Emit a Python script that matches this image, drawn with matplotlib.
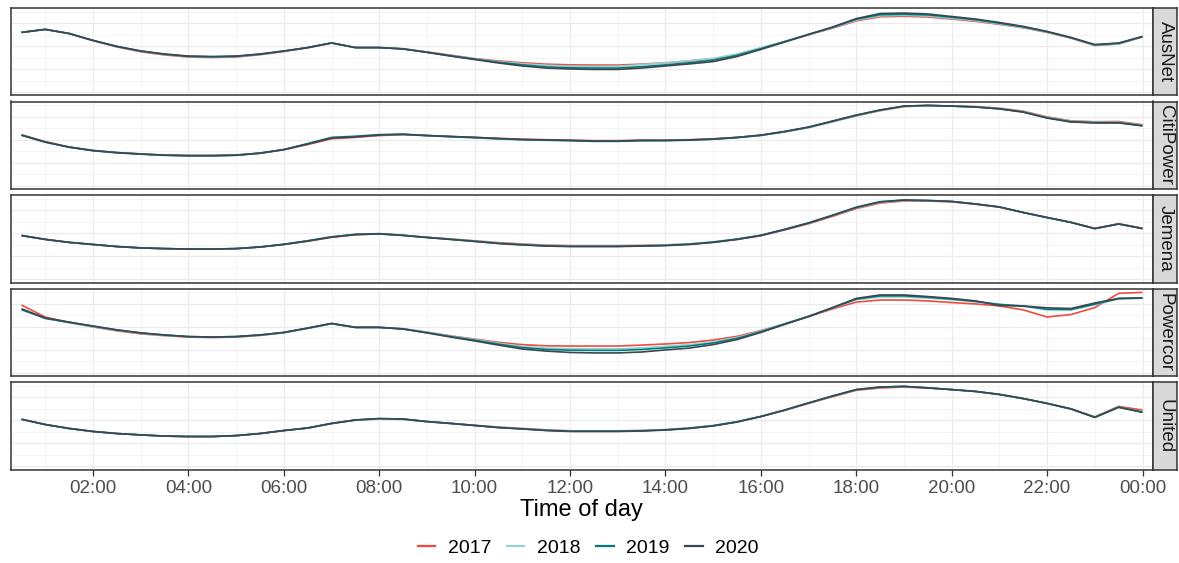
import matplotlib
matplotlib.use("Agg")
import matplotlib.pyplot as plt
from matplotlib.lines import Line2D
from matplotlib.ticker import MultipleLocator
import numpy as np

plt.rcParams.update({
    "font.family": ["Liberation Sans", "DejaVu Sans"],
})

# half-hourly time slots, 00:30 ... 24:00 (in hours)
hours = np.arange(1, 49) * 0.5
tick_hours = [2, 4, 6, 8, 10, 12, 14, 16, 18, 20, 22, 24]
tick_labels = ["02:00", "04:00", "06:00", "08:00", "10:00", "12:00",
               "14:00", "16:00", "18:00", "20:00", "22:00", "00:00"]

networks = ["AusNet", "CitiPower", "Jemena", "Powercor", "United"]
years = ["2017", "2018", "2019", "2020"]

# normalised half-hourly demand profiles
ausnet_2017 = [2.60, 2.73, 2.55, 2.24, 1.97, 1.76, 1.62, 1.53, 1.51, 1.53, 1.63, 1.77,
               1.93, 2.14, 1.94, 1.94, 1.89, 1.75, 1.61, 1.46, 1.36, 1.28, 1.22, 1.19,
               1.18, 1.18, 1.22, 1.28, 1.36, 1.45, 1.64, 1.92, 2.20, 2.50, 2.78, 3.10,
               3.28, 3.30, 3.27, 3.18, 3.08, 2.95, 2.80, 2.60, 2.35, 2.03, 2.10, 2.40]
ausnet_2018 = [2.60, 2.73, 2.55, 2.25, 1.98, 1.78, 1.64, 1.55, 1.53, 1.55, 1.64, 1.78,
               1.93, 2.14, 1.94, 1.94, 1.89, 1.74, 1.59, 1.45, 1.33, 1.24, 1.17, 1.13,
               1.12, 1.13, 1.20, 1.28, 1.37, 1.47, 1.66, 1.93, 2.21, 2.51, 2.80, 3.13,
               3.32, 3.34, 3.31, 3.21, 3.11, 2.97, 2.81, 2.61, 2.36, 2.04, 2.10, 2.41]
ausnet_2019 = [2.60, 2.73, 2.55, 2.25, 1.99, 1.79, 1.65, 1.56, 1.54, 1.56, 1.65, 1.79,
               1.94, 2.14, 1.94, 1.94, 1.88, 1.74, 1.58, 1.44, 1.30, 1.19, 1.10, 1.06,
               1.05, 1.05, 1.11, 1.19, 1.28, 1.39, 1.60, 1.89, 2.20, 2.51, 2.82, 3.17,
               3.37, 3.39, 3.36, 3.26, 3.15, 3.00, 2.84, 2.63, 2.37, 2.06, 2.12, 2.42]
ausnet_2020 = [2.60, 2.73, 2.55, 2.25, 1.99, 1.79, 1.66, 1.57, 1.55, 1.57, 1.66, 1.79,
               1.94, 2.14, 1.94, 1.94, 1.88, 1.73, 1.57, 1.42, 1.27, 1.14, 1.05, 1.01,
               0.99, 0.99, 1.05, 1.14, 1.23, 1.33, 1.55, 1.86, 2.18, 2.51, 2.83, 3.20,
               3.42, 3.44, 3.40, 3.29, 3.18, 3.03, 2.86, 2.64, 2.38, 2.07, 2.14, 2.42]

citipower_2017 = [2.22, 1.91, 1.68, 1.53, 1.44, 1.38, 1.33, 1.31, 1.31, 1.33, 1.41, 1.56,
                  1.79, 2.04, 2.10, 2.18, 2.22, 2.18, 2.14, 2.10, 2.06, 2.02, 2.00, 1.98,
                  1.96, 1.96, 1.98, 1.98, 2.00, 2.04, 2.10, 2.19, 2.34, 2.53, 2.78, 3.04,
                  3.26, 3.44, 3.48, 3.47, 3.44, 3.37, 3.24, 2.99, 2.82, 2.78, 2.79, 2.65]
citipower_2018 = [2.21, 1.90, 1.68, 1.53, 1.44, 1.38, 1.33, 1.31, 1.31, 1.33, 1.42, 1.57,
                  1.82, 2.09, 2.13, 2.20, 2.23, 2.17, 2.12, 2.08, 2.03, 1.99, 1.97, 1.95,
                  1.93, 1.93, 1.95, 1.96, 1.98, 2.02, 2.09, 2.18, 2.34, 2.52, 2.78, 3.04,
                  3.27, 3.44, 3.48, 3.46, 3.43, 3.35, 3.22, 2.97, 2.80, 2.76, 2.76, 2.63]
citipower_2019 = [2.19, 1.89, 1.67, 1.52, 1.43, 1.37, 1.32, 1.30, 1.30, 1.32, 1.41, 1.57,
                  1.83, 2.10, 2.15, 2.22, 2.24, 2.18, 2.13, 2.09, 2.04, 2.00, 1.98, 1.96,
                  1.93, 1.93, 1.96, 1.96, 1.98, 2.02, 2.09, 2.19, 2.35, 2.54, 2.80, 3.06,
                  3.29, 3.46, 3.49, 3.46, 3.42, 3.34, 3.20, 2.95, 2.78, 2.74, 2.74, 2.61]
citipower_2020 = [2.20, 1.90, 1.68, 1.53, 1.44, 1.38, 1.33, 1.31, 1.31, 1.33, 1.42, 1.57,
                  1.81, 2.07, 2.12, 2.20, 2.23, 2.18, 2.14, 2.10, 2.05, 2.01, 1.99, 1.97,
                  1.94, 1.94, 1.97, 1.97, 1.99, 2.03, 2.10, 2.20, 2.36, 2.55, 2.81, 3.07,
                  3.29, 3.46, 3.49, 3.46, 3.42, 3.34, 3.20, 2.94, 2.77, 2.73, 2.73, 2.60]

jemena_2017 = [1.90, 1.73, 1.60, 1.51, 1.42, 1.36, 1.33, 1.31, 1.31, 1.33, 1.40, 1.51,
               1.65, 1.82, 1.93, 1.97, 1.91, 1.82, 1.75, 1.67, 1.59, 1.53, 1.48, 1.46,
               1.46, 1.46, 1.47, 1.49, 1.53, 1.61, 1.73, 1.89, 2.14, 2.41, 2.73, 3.07,
               3.31, 3.40, 3.40, 3.36, 3.26, 3.13, 2.90, 2.68, 2.47, 2.21, 2.41, 2.22]
jemena_2018 = [1.90, 1.73, 1.60, 1.51, 1.42, 1.36, 1.33, 1.31, 1.31, 1.33, 1.40, 1.52,
               1.67, 1.84, 1.95, 1.97, 1.91, 1.82, 1.74, 1.66, 1.57, 1.51, 1.46, 1.44,
               1.44, 1.44, 1.46, 1.49, 1.54, 1.63, 1.75, 1.91, 2.16, 2.43, 2.76, 3.10,
               3.34, 3.42, 3.41, 3.37, 3.27, 3.14, 2.90, 2.68, 2.47, 2.20, 2.40, 2.20]
jemena_2019 = [1.90, 1.73, 1.60, 1.51, 1.42, 1.36, 1.33, 1.31, 1.31, 1.33, 1.40, 1.52,
               1.67, 1.84, 1.95, 1.98, 1.91, 1.82, 1.73, 1.65, 1.56, 1.50, 1.45, 1.43,
               1.43, 1.43, 1.45, 1.47, 1.52, 1.61, 1.74, 1.91, 2.17, 2.45, 2.78, 3.13,
               3.37, 3.44, 3.42, 3.38, 3.27, 3.14, 2.90, 2.68, 2.47, 2.20, 2.40, 2.20]
jemena_2020 = [1.90, 1.73, 1.60, 1.51, 1.42, 1.36, 1.33, 1.31, 1.31, 1.33, 1.40, 1.51,
               1.66, 1.83, 1.94, 1.97, 1.90, 1.81, 1.73, 1.64, 1.55, 1.49, 1.44, 1.42,
               1.42, 1.42, 1.44, 1.46, 1.51, 1.60, 1.73, 1.90, 2.16, 2.44, 2.77, 3.12,
               3.36, 3.44, 3.42, 3.38, 3.27, 3.14, 2.90, 2.68, 2.47, 2.20, 2.40, 2.20]

powercor_2017 = [2.94, 2.42, 2.18, 1.99, 1.82, 1.69, 1.61, 1.55, 1.53, 1.55, 1.62, 1.74,
                 1.93, 2.13, 1.97, 1.97, 1.91, 1.76, 1.60, 1.46, 1.32, 1.22, 1.17, 1.16,
                 1.16, 1.16, 1.20, 1.25, 1.31, 1.42, 1.58, 1.83, 2.12, 2.44, 2.77, 3.07,
                 3.16, 3.16, 3.12, 3.05, 2.99, 2.90, 2.73, 2.42, 2.53, 2.83, 3.45, 3.49]
powercor_2018 = [2.80, 2.36, 2.17, 2.00, 1.84, 1.71, 1.62, 1.56, 1.54, 1.56, 1.62, 1.73,
                 1.92, 2.13, 1.97, 1.97, 1.91, 1.76, 1.59, 1.44, 1.28, 1.14, 1.07, 1.05,
                 1.04, 1.04, 1.08, 1.15, 1.22, 1.34, 1.53, 1.81, 2.13, 2.46, 2.81, 3.17,
                 3.29, 3.29, 3.24, 3.17, 3.08, 2.96, 2.88, 2.73, 2.72, 2.95, 3.22, 3.24]
powercor_2019 = [2.74, 2.36, 2.19, 2.02, 1.86, 1.73, 1.64, 1.57, 1.55, 1.57, 1.64, 1.75,
                 1.94, 2.14, 1.97, 1.97, 1.90, 1.74, 1.57, 1.41, 1.24, 1.09, 1.01, 0.98,
                 0.97, 0.97, 1.01, 1.08, 1.16, 1.29, 1.49, 1.78, 2.12, 2.45, 2.82, 3.20,
                 3.34, 3.34, 3.28, 3.20, 3.10, 2.97, 2.90, 2.76, 2.75, 2.98, 3.22, 3.24]
powercor_2020 = [2.77, 2.38, 2.20, 2.03, 1.86, 1.73, 1.64, 1.57, 1.55, 1.57, 1.64, 1.75,
                 1.94, 2.14, 1.97, 1.97, 1.90, 1.73, 1.55, 1.38, 1.20, 1.03, 0.94, 0.88,
                 0.86, 0.86, 0.90, 0.99, 1.07, 1.22, 1.44, 1.75, 2.10, 2.44, 2.83, 3.23,
                 3.38, 3.38, 3.31, 3.23, 3.12, 2.92, 2.90, 2.82, 2.79, 3.03, 3.23, 3.25]

united_2017 = [2.04, 1.81, 1.64, 1.51, 1.42, 1.36, 1.31, 1.29, 1.29, 1.33, 1.42, 1.55,
               1.66, 1.85, 2.00, 2.06, 2.04, 1.94, 1.86, 1.78, 1.70, 1.64, 1.58, 1.54,
               1.54, 1.54, 1.55, 1.59, 1.66, 1.76, 1.93, 2.16, 2.43, 2.73, 3.02, 3.30,
               3.40, 3.44, 3.40, 3.33, 3.25, 3.12, 2.94, 2.73, 2.49, 2.14, 2.60, 2.44]
united_2018 = [2.04, 1.81, 1.64, 1.51, 1.42, 1.36, 1.31, 1.29, 1.29, 1.33, 1.42, 1.55,
               1.67, 1.86, 2.00, 2.05, 2.03, 1.93, 1.85, 1.77, 1.69, 1.63, 1.57, 1.53,
               1.53, 1.53, 1.55, 1.59, 1.66, 1.77, 1.94, 2.17, 2.44, 2.74, 3.04, 3.32,
               3.43, 3.46, 3.41, 3.33, 3.25, 3.12, 2.94, 2.73, 2.49, 2.13, 2.57, 2.36]
united_2019 = [2.04, 1.81, 1.64, 1.51, 1.42, 1.36, 1.31, 1.29, 1.29, 1.33, 1.42, 1.55,
               1.66, 1.86, 2.01, 2.07, 2.05, 1.94, 1.86, 1.77, 1.68, 1.62, 1.56, 1.52,
               1.52, 1.52, 1.54, 1.58, 1.65, 1.76, 1.93, 2.16, 2.44, 2.75, 3.05, 3.33,
               3.44, 3.47, 3.41, 3.33, 3.25, 3.12, 2.94, 2.73, 2.49, 2.13, 2.57, 2.35]
united_2020 = [2.04, 1.81, 1.64, 1.51, 1.42, 1.36, 1.31, 1.29, 1.29, 1.33, 1.42, 1.55,
               1.66, 1.86, 2.01, 2.07, 2.05, 1.94, 1.86, 1.77, 1.68, 1.62, 1.55, 1.51,
               1.51, 1.51, 1.53, 1.57, 1.64, 1.75, 1.92, 2.16, 2.44, 2.75, 3.05, 3.33,
               3.44, 3.47, 3.40, 3.33, 3.25, 3.12, 2.94, 2.73, 2.49, 2.12, 2.56, 2.34]

profiles = {
    "AusNet": [ausnet_2017, ausnet_2018, ausnet_2019, ausnet_2020],
    "CitiPower": [citipower_2017, citipower_2018, citipower_2019, citipower_2020],
    "Jemena": [jemena_2017, jemena_2018, jemena_2019, jemena_2020],
    "Powercor": [powercor_2017, powercor_2018, powercor_2019, powercor_2020],
    "United": [united_2017, united_2018, united_2019, united_2020],
}

YEAR_COLORS = ["#F04A42", "#92D4CF", "#007B7E", "#3D4750"]
BORDER = "#333333"
GRID = "#EBEBEB"

W, H = 1179, 563
fig = plt.figure(figsize=(W / 100, H / 100), dpi=100)

# layout in pixels
left, right = 10.5, 1153
strip_w = 24
top0, panel_h, pitch = 8, 87.5, 93.5

axes = []
for i, net in enumerate(networks):
    top = top0 + i * pitch
    ax = fig.add_axes([left / W, 1 - (top + panel_h) / H,
                       (right - left) / W, panel_h / H])
    for yr, col, vals in zip(years, YEAR_COLORS, profiles[net]):
        ax.plot(hours, vals, color=col, lw=1.2, solid_capstyle="butt")
    ax.set_xlim(0.27, 24.22)
    ax.set_ylim(-0.143, 3.66)
    ax.xaxis.set_major_locator(plt.FixedLocator(tick_hours))
    ax.xaxis.set_minor_locator(MultipleLocator(1))
    ax.yaxis.set_major_locator(MultipleLocator(1))
    ax.yaxis.set_minor_locator(MultipleLocator(0.5))
    ax.grid(which="major", color=GRID, lw=0.9)
    ax.grid(which="minor", color="#F2F2F2", lw=0.6)
    ax.set_axisbelow(True)
    for s in ax.spines.values():
        s.set_color(BORDER)
        s.set_linewidth(1.1)
    ax.tick_params(axis="y", which="both", left=False, labelleft=False)
    if i == len(networks) - 1:
        ax.set_xticklabels(tick_labels)
        ax.tick_params(axis="x", which="major", length=4, width=0.9,
                       color=BORDER, labelsize=13.5, labelcolor="#4D4D4D", pad=3.5)
        ax.tick_params(axis="x", which="minor", length=0)
    else:
        ax.tick_params(axis="x", which="both", bottom=False, labelbottom=False)
    axes.append(ax)

    # facet strip on the right
    sax = fig.add_axes([right / W, 1 - (top + panel_h) / H,
                        strip_w / W, panel_h / H])
    sax.set_facecolor("#D9D9D9")
    sax.set_xticks([]); sax.set_yticks([])
    for s in sax.spines.values():
        s.set_color(BORDER)
        s.set_linewidth(1.1)
    sax.text(0.5, 0.5, net, rotation=-90, ha="center", va="center",
             fontsize=13.5, color="#1A1A1A", transform=sax.transAxes)

fig.text(((left + right) / 2) / W, 1 - 510 / H, "Time of day",
         ha="center", va="center", fontsize=17, color="black")

handles = [Line2D([], [], color=c, lw=1.6) for c in YEAR_COLORS]
fig.legend(handles, years, loc="center", bbox_to_anchor=(0.499, 1 - 548 / H),
           ncol=4, frameon=False, fontsize=14, handlelength=0.9,
           handletextpad=0.65, columnspacing=0.8)

fig.savefig("out.png", dpi=100)
